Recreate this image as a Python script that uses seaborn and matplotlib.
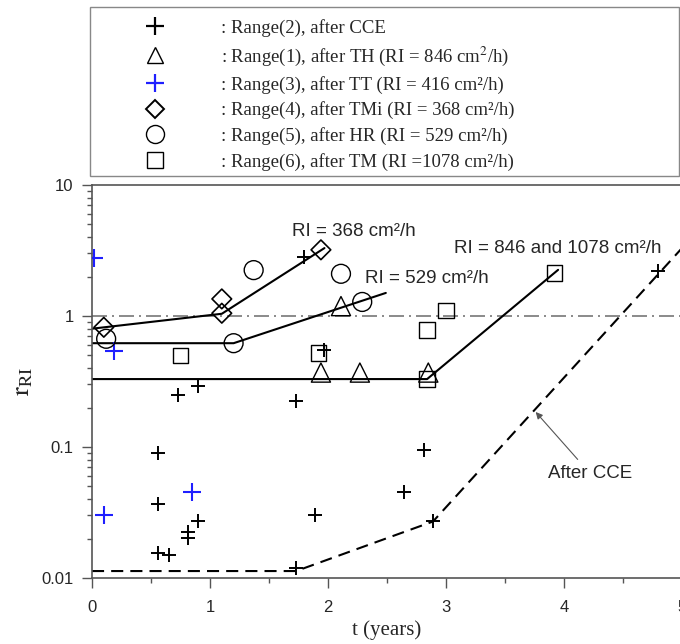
import numpy as np
import pandas as pd
import matplotlib
matplotlib.use("Agg")
import matplotlib.pyplot as plt
import seaborn as sns
from matplotlib.lines import Line2D
from matplotlib.patches import Rectangle
from matplotlib.ticker import LogLocator, NullFormatter, FixedLocator

# ---------------- data ----------------
r2_t = [1.80, 1.97, 0.73, 0.90, 1.73, 0.56, 0.56, 0.81, 0.81, 0.90, 0.56, 0.65, 1.73, 1.89, 2.81, 2.64, 2.89, 4.80]
r2_r = [2.8, 0.55, 0.25, 0.29, 0.224, 0.09, 0.037, 0.0224, 0.0203, 0.027, 0.0155, 0.015, 0.012, 0.030, 0.095, 0.045, 0.027, 2.2]
r1_t = [1.94, 2.27, 2.85, 2.11]
r1_r = [0.37, 0.37, 0.37, 1.19]
r3_t = [0.02, 0.19, 0.10, 0.85]
r3_r = [2.78, 0.54, 0.030, 0.045]
r4_t = [0.10, 1.10, 1.10, 1.94]
r4_r = [0.82, 1.35, 1.05, 3.2]
r5_t = [0.12, 1.37, 1.20, 2.11, 2.29]
r5_r = [0.67, 2.24, 0.62, 2.1, 1.28]
r6_t = [0.75, 1.92, 3.00, 2.84, 2.84, 3.92]
r6_r = [0.50, 0.52, 1.10, 0.78, 0.33, 2.13]

fit368_t = [0.0, 1.10, 1.97]
fit368_r = [0.80, 1.04, 3.3]
fit529_t = [0.0, 1.20, 2.49]
fit529_r = [0.62, 0.62, 1.50]
fit846_t = [0.0, 2.84, 3.95]
fit846_r = [0.33, 0.33, 2.25]
cce_t = [0.0, 1.73, 2.89, 5.0]
cce_r = [0.0113, 0.0113, 0.027, 3.3]
ref_t = [0.0, 5.0]
ref_r = [1.0, 1.0]

xtick_vals = [0, 1, 2, 3, 4, 5]
xtick_labels = ["0", "1", "2", "3", "4", "5"]
ytick_vals = [0.01, 0.1, 1, 10]
ytick_labels = ["0.01", "0.1", "1", "10"]

legend_labels = [
    ": Range(2), after CCE",
    ": Range(1), after TH (RI = 846 cm$^{2}$/h)",
    ": Range(3), after TT (RI = 416 cm\u00b2/h)",
    ": Range(4), after TMi (RI = 368 cm\u00b2/h)",
    ": Range(5), after HR (RI = 529 cm\u00b2/h)",
    ": Range(6), after TM (RI =1078 cm\u00b2/h)",
]
note_368 = "RI = 368 cm\u00b2/h"
note_529 = "RI = 529 cm\u00b2/h"
note_846 = "RI = 846 and 1078 cm\u00b2/h"
note_cce = "After CCE"

# ---------------- style ----------------
sns.set_style("ticks")
plt.rcParams["font.family"] = ["Liberation Sans", "DejaVu Sans"]
plt.rcParams["mathtext.fontset"] = "stix"

W, H = 680, 644
fig = plt.figure(figsize=(W / 100, H / 100), dpi=100)
ax = fig.add_axes([92 / W, 1 - 578 / H, 590 / W, (578 - 185) / H])
ax.set_yscale("log")
ax.set_xlim(0, 5)
ax.set_ylim(0.01, 10)

BLUE = "#1f1fff"
LINEC = "black"

# reference line and fits
sns.lineplot(x=ref_t, y=ref_r, ax=ax, color="#777777", linewidth=1.2,
             linestyle=(0, (9, 3, 1.2, 3)), estimator=None, sort=False)
sns.lineplot(x=fit368_t, y=fit368_r, ax=ax, color=LINEC, linewidth=1.5, estimator=None, sort=False)
sns.lineplot(x=fit529_t, y=fit529_r, ax=ax, color=LINEC, linewidth=1.5, estimator=None, sort=False)
sns.lineplot(x=fit846_t, y=fit846_r, ax=ax, color=LINEC, linewidth=1.5, estimator=None, sort=False)
sns.lineplot(x=cce_t, y=cce_r, ax=ax, color=LINEC, linewidth=1.5,
             linestyle=(0, (5.8, 3.4)), estimator=None, sort=False)

# points
sns.scatterplot(x=r2_t, y=r2_r, ax=ax, marker="+", s=95, color="black", linewidth=1.4, zorder=3)
sns.scatterplot(x=r3_t, y=r3_r, ax=ax, marker="+", s=150, color=BLUE, linewidth=1.5, zorder=3)
sns.scatterplot(x=r1_t, y=r1_r, ax=ax, marker="^", s=190, facecolor="none", edgecolor="black", linewidth=1.0, zorder=3)
sns.scatterplot(x=r4_t, y=r4_r, ax=ax, marker="D", s=100, facecolor="none", edgecolor="black", linewidth=1.2, zorder=3)
sns.scatterplot(x=r5_t, y=r5_r, ax=ax, marker="o", s=185, facecolor="none", edgecolor="black", linewidth=1.0, zorder=3)
sns.scatterplot(x=r6_t, y=r6_r, ax=ax, marker="s", s=130, facecolor="none", edgecolor="black", linewidth=1.0, zorder=3)

# annotations
ax.text(1.695, 4.38, note_368, fontsize=13.5, ha="left", va="center")
ax.text(2.31, 1.92, note_529, fontsize=13.5, ha="left", va="center")
ax.text(3.07, 3.30, note_846, fontsize=13.5, ha="left", va="center")
ax.annotate(note_cce, xy=(3.76, 0.185), xytext=(4.22, 0.063), fontsize=13.5,
            ha="center", va="center",
            arrowprops=dict(arrowstyle="-|>", color="#555555", lw=0.8, mutation_scale=10,
                            shrinkA=2, shrinkB=0))

# axes styling
for sp in ax.spines.values():
    sp.set_color("#555555")
    sp.set_linewidth(1.2)
ax.xaxis.set_major_locator(FixedLocator(xtick_vals))
ax.set_xticklabels(xtick_labels)
ax.xaxis.set_minor_locator(FixedLocator([0.5, 1.5, 2.5, 3.5, 4.5]))
ax.yaxis.set_major_locator(FixedLocator(ytick_vals))
ax.set_yticklabels(ytick_labels)
ax.yaxis.set_minor_locator(LogLocator(base=10, subs=np.arange(2, 10)))
ax.yaxis.set_minor_formatter(NullFormatter())
ax.tick_params(axis="both", which="major", length=7.2, width=1.0, color="#555555",
               labelsize=12, direction="out")
ax.tick_params(axis="both", which="minor", length=3.6, width=1.0, color="#555555", direction="out")
ax.tick_params(axis="x", which="major", pad=9)
ax.tick_params(axis="y", which="major", pad=6)
ax.tick_params(top=False, right=False, which="both")

ax.set_xlabel("t (years)", fontfamily="Liberation Serif", fontsize=15)
ax.xaxis.set_label_coords(0.5, -0.108)
ax.set_ylabel(r"$\mathrm{r}_{\mathrm{RI}}$", fontsize=19)
ax.yaxis.set_label_coords(-0.097, 0.5)

# legend
handles = [
    Line2D([], [], ls="none", marker="+", color="black", ms=13, mew=1.6),
    Line2D([], [], ls="none", marker="^", mfc="none", mec="black", ms=12, mew=1.0),
    Line2D([], [], ls="none", marker="+", color=BLUE, ms=13, mew=1.6),
    Line2D([], [], ls="none", marker="D", mfc="none", mec="black", ms=9, mew=1.4),
    Line2D([], [], ls="none", marker="o", mfc="none", mec="black", ms=13, mew=1.0),
    Line2D([], [], ls="none", marker="s", mfc="none", mec="black", ms=12, mew=1.0),
]
fig.legend(handles=handles, labels=legend_labels, loc="upper left",
           bbox_to_anchor=(136 / W, 1 - 19 / H), bbox_transform=fig.transFigure,
           frameon=False, borderpad=0, borderaxespad=0, handlelength=2.0,
           handletextpad=2.55, labelspacing=0.41,
           prop={"family": ["Liberation Serif", "DejaVu Serif"], "size": 13.5})
fig.add_artist(Rectangle((90 / W, 1 - 176 / H), (679 - 90) / W, (176 - 7) / H,
                         transform=fig.transFigure, fill=False, ec="#888888", lw=1.0))

fig.savefig("out.png", dpi=100)
